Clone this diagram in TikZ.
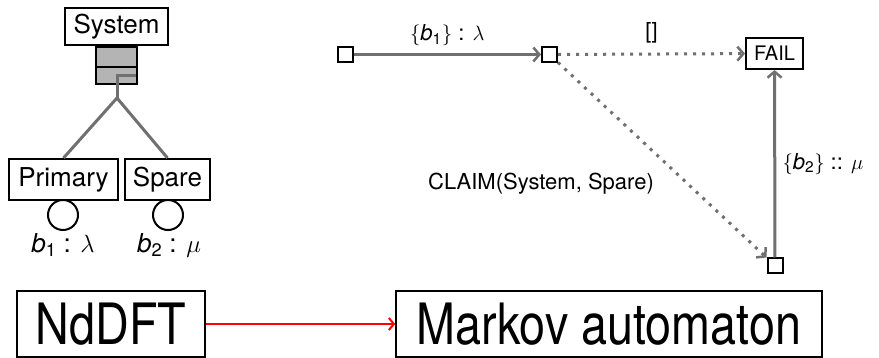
\documentclass[tikz,border=0pt]{standalone}
\usepackage{amsmath}
\usepackage{fontspec}
\setmainfont{TeX Gyre Heros}
\usetikzlibrary{arrows.meta}
\definecolor{edgegray}{RGB}{112,112,112}
\definecolor{gatefill}{RGB}{180,180,180}

\tikzset{
  ftbox/.style={draw,line width=2pt,inner sep=0pt,font=\fontsize{26}{30}\selectfont},
  bevent/.style={draw,circle,line width=2pt,minimum size=30pt,inner sep=0pt},
  ftline/.style={edgegray,line width=3pt},
  mastate/.style={draw,line width=2pt,minimum size=15pt,inner sep=0pt},
  trans/.style={edgegray,line width=3pt,-{Straight Barb[length=6pt,width=14pt,line width=2.5pt]}},
  dottrans/.style={trans,dash pattern=on 3pt off 6pt},
  tlabel/.style={text=black,font=\fontsize{22}{26}\selectfont},
  bigbox/.style={draw,line width=1.6pt,minimum height=66pt,inner sep=0pt,font=\fontsize{57}{60}\selectfont}
}

\begin{document}
\begin{tikzpicture}[x=1pt,y=-1pt]
  \useasboundingbox (0,0) rectangle (879,358);

  % fault tree with a spare gate
  \node[ftbox,minimum width=103pt,minimum height=37pt] (system) at (116.5,26.5) {System};
  \filldraw[fill=gatefill,draw=black,line width=1.8pt] (96,47) rectangle (137,84);
  \draw[line width=1.8pt] (96,67) -- (137,67);
  \draw[ftline] (136,76) -| (117,98) coordinate (fork);
  \node[ftbox,minimum width=109pt,minimum height=41pt] (primary) at (63.5,179.5) {Primary};
  \node[ftbox,minimum width=85pt,minimum height=41pt] (spare) at (167.5,179.5) {Spare};
  \draw[ftline] (fork) -- (primary.north);
  \draw[ftline] (fork) -- (spare.north);
  \node[bevent] (b1) at (63,215) {};
  \node[bevent] (b2) at (168,215) {};
  \node[font=\fontsize{26}{30}\selectfont] (b1lab) at (63,245) {\textit{b}$_{\text{1}}$ : $\lambda$};
  \node[font=\fontsize{26}{30}\selectfont] (b2lab) at (169,245) {\textit{b}$_{\text{2}}$ : $\mu$};

  % resulting Markov automaton
  \node[mastate] (s0) at (345,54.5) {};
  \node[mastate] (s1) at (549.5,54.5) {};
  \node[draw,line width=2pt,minimum width=57pt,minimum height=31pt,inner sep=0pt,
        font=\fontsize{20}{24}\selectfont] (fail) at (774.5,53.5) {FAIL};
  \node[mastate] (s2) at (775,266) {};
  \draw[trans] (s0) -- node[tlabel,above=4pt] {$\{$\textit{b}$_{\text{1}}\}$ : $\lambda$} (s1);
  \draw[dottrans] (s1) -- node[tlabel,above=6pt] {[]} (fail);
  \draw[dottrans] (s1) -- (s2.north west);
  \draw[trans] (s2) -- node[tlabel,right=3pt] {$\{$\textit{b}$_{\text{2}}\}$ :: $\mu$} (fail);
  \node[tlabel] (claim) at (541,184) {CLAIM(System, Spare)};

  % translation step
  \node[bigbox,minimum width=188pt] (nddft) at (111,324) {\scalebox{0.82}[1]{NdDFT}};
  \node[bigbox,minimum width=426pt] (ma) at (609,324) {\scalebox{0.82}[1]{Markov automaton}};
  \draw[red,line width=2.5pt,-{Straight Barb[length=5pt,width=12pt,line width=2pt]}] (nddft) -- (ma);
\end{tikzpicture}
\end{document}
